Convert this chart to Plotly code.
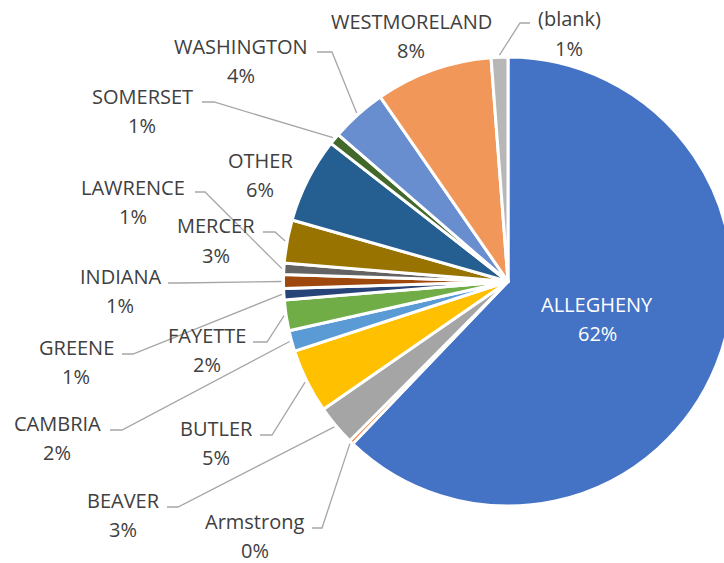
import math
import plotly.graph_objects as go

# ---------------- data ----------------
counties = ["ALLEGHENY", "Armstrong", "BEAVER", "BUTLER", "CAMBRIA", "FAYETTE",
            "GREENE", "INDIANA", "LAWRENCE", "MERCER", "OTHER", "SOMERSET",
            "WASHINGTON", "WESTMORELAND", "(blank)"]
shares = [61.9, 0.3, 2.9, 4.6, 1.5, 2.2, 0.8, 1.0, 0.8, 3.1, 6.1, 0.8, 4.0, 8.4, 1.2]
colors = ["#4472C4", "#ED7D31", "#A5A5A5", "#FFC000", "#5B9BD5", "#70AD47",
          "#264478", "#9E480E", "#636363", "#997300", "#255E91", "#43682B",
          "#698ED0", "#F1975A", "#B7B7B7"]

# ---------------- layout (pixels from top-left) ----------------
W, H = 740, 563
CX, CY, R = 508, 281.5, 224.5
LINE_GAP = 29.5
# name-line centre, and leader line (start x, elbow x, y) or None
label_layout = {
    "ALLEGHENY":    ((597, 304), None),
    "Armstrong":    ((255, 521), (312, 322, 528)),
    "BEAVER":       ((123, 500), (167, 178, 507)),
    "BUTLER":       ((216, 428), (260, 272, 435)),
    "CAMBRIA":      ((57, 423), (110, 122, 430)),
    "FAYETTE":      ((207, 335), (253, 267, 342)),
    "GREENE":       ((76, 347), (122, 133, 354)),
    "INDIANA":      ((120, 276), (168, 178, 283)),
    "LAWRENCE":     ((133, 187), (195, 205, 192)),
    "MERCER":       ((216, 226), (263, 275, 232)),
    "OTHER":        ((260, 160), None),
    "SOMERSET":     ((142, 96), (202, 214, 102)),
    "WASHINGTON":   ((241, 46), (317, 332, 52)),
    "WESTMORELAND": ((411, 21), None),
    "(blank)":      ((569, 19), (530, 520, 23)),
}

def px(x):
    return x / W

def py(y):
    return 1 - y / H

fig = go.Figure(go.Pie(
    labels=counties,
    values=shares,
    sort=False,
    direction="clockwise",
    rotation=0,
    textinfo="none",
    hoverinfo="label+percent",
    marker=dict(colors=colors, line=dict(color="white", width=3)),
    domain=dict(x=[px(CX - R), px(CX + R)], y=[py(CY + R), py(CY - R)]),
    showlegend=False,
))

total = sum(shares)
annotations = []
shapes = []
cum = 0.0
for name, v in zip(counties, shares):
    mid = (cum + v / 2) / total
    cum += v
    (tx, ty), leader = label_layout[name]
    col = "white" if name == "ALLEGHENY" else "#404040"
    pct = f"{round(100 * v / total)}%"
    for txt, yy in ((name, ty), (pct, ty + LINE_GAP)):
        annotations.append(dict(
            x=px(tx), y=py(yy), xref="paper", yref="paper", text=txt,
            showarrow=False, xanchor="center", yanchor="middle",
            font=dict(family="Open Sans", size=20, color=col)))
    if leader:
        sx, ex, ly = leader
        ang = 2 * math.pi * mid
        tipx = CX + (R + 2) * math.sin(ang)
        tipy = CY - (R + 2) * math.cos(ang)
        path = (f"M {px(sx):.5f},{py(ly):.5f} L {px(ex):.5f},{py(ly):.5f} "
                f"L {px(tipx):.5f},{py(tipy):.5f}")
        shapes.append(dict(type="path", path=path, xref="paper", yref="paper",
                           line=dict(color="#A6A6A6", width=1.3)))

fig.update_layout(
    width=W, height=H,
    margin=dict(l=0, r=0, t=0, b=0),
    paper_bgcolor="white",
    plot_bgcolor="white",
    annotations=annotations,
    shapes=shapes,
)

fig.write_html(
    "out.html",
    post_script="document.documentElement.style.overflow='hidden';"
                "document.body.style.overflow='hidden';",
)
